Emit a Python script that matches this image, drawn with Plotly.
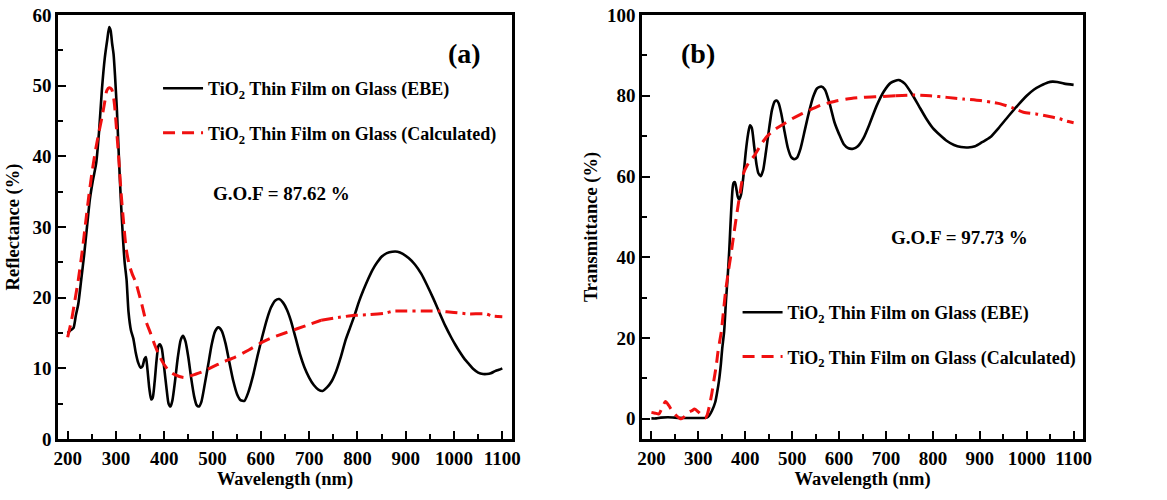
import plotly.graph_objects as go

# ---- Panel (a): reflectance ----
wl_refl_ebe = [200, 206, 212, 217, 222, 228, 234, 240, 246, 252, 259, 265, 271, 277, 282, 286,
               289, 292, 295, 298, 302, 306, 310, 314, 318, 322, 326, 331, 336, 341, 346, 351,
               355, 359, 362, 365, 369, 373, 376, 380, 384, 388, 391, 395, 400, 405, 409, 413,
               417, 422, 428, 434, 439, 444, 450, 456, 462, 467, 472, 477, 484, 491, 498, 505,
               512, 519, 527, 535, 543, 551, 558, 566, 574, 584, 594, 603, 612, 621, 630, 638,
               646, 654, 662, 672, 681, 690, 700, 710, 719, 728, 737, 746, 756, 766, 775, 785,
               794, 803, 812, 822, 831, 841, 850, 861, 872, 883, 894, 906, 919, 932, 944, 957,
               969, 982, 994, 1003, 1012, 1022, 1031, 1040, 1050, 1060, 1068, 1076, 1085, 1093, 1100]
refl_ebe = [15.0, 15.4, 15.7, 17.5, 19.1, 22.5, 26.0, 30.0, 33.9, 36.5, 39.0, 43.5, 49.5, 54.0, 56.5, 58.3,
            57.8, 56.0, 54.5, 51.5, 46.5, 40.0, 34.0, 29.0, 25.0, 22.5, 18.0, 15.4, 14.2, 12.2, 10.8, 10.1,
            10.3, 11.3, 11.6, 10.0, 7.2, 5.6, 5.8, 8.0, 11.1, 13.2, 13.4, 12.8, 10.0, 7.0, 5.0, 4.6,
            5.5, 8.0, 11.5, 14.0, 14.6, 13.8, 11.5, 8.5, 6.0, 4.8, 4.6, 5.3, 7.8, 10.5, 13.3, 15.2,
            15.8, 15.3, 13.5, 10.8, 8.2, 6.3, 5.5, 5.4, 6.6, 9.0, 12.0, 14.5, 16.8, 18.6, 19.6, 19.8,
            19.3, 18.3, 16.8, 14.3, 12.0, 10.2, 8.7, 7.6, 7.0, 6.8, 7.3, 8.1, 9.6, 11.7, 13.9, 15.8,
            17.5, 19.4, 21.0, 22.6, 23.9, 25.0, 25.8, 26.3, 26.5, 26.5, 26.2, 25.6, 24.7, 23.4, 21.8, 19.9,
            18.0, 16.0, 14.4, 13.3, 12.3, 11.3, 10.6, 9.9, 9.4, 9.2, 9.2, 9.3, 9.6, 9.8, 10.0]

wl_refl_calc = [200, 208, 215, 222, 230, 237, 244, 251, 258, 265, 271, 277, 281, 286, 291, 294,
                297, 301, 306, 311, 316, 321, 327, 334, 341, 347, 353, 362, 372, 381, 391, 400,
                409, 422, 441, 466, 482, 497, 522, 547, 575, 603, 622, 650, 675, 700, 725, 760,
                794, 825, 856, 875, 900, 935, 969, 1000, 1031, 1066, 1080, 1100]
refl_calc = [14.4, 16.8, 19.6, 22.5, 26.5, 30.5, 34.5, 38.0, 41.0, 43.5, 45.5, 47.8, 49.3, 49.7, 49.5, 48.8,
             47.3, 44.0, 39.5, 34.5, 30.5, 27.0, 24.8, 23.3, 22.2, 20.7, 19.2, 16.7, 14.9, 13.2, 11.6, 10.5,
             9.7, 9.1, 8.7, 9.2, 9.6, 10.1, 10.9, 11.6, 12.6, 13.7, 14.3, 15.0, 15.6, 16.2, 16.8, 17.2,
             17.5, 17.6, 17.8, 18.1, 18.1, 18.1, 18.1, 17.9, 17.7, 17.7, 17.4, 17.3]

# ---- Panel (b): transmittance ----
wl_trans_ebe = [200, 210, 220, 235, 250, 270, 290, 310, 318, 323, 329, 336, 340, 344, 348, 351,
                355, 359, 363, 366, 368, 370, 373, 375, 378, 381, 384, 387, 391, 396, 401, 406,
                410, 414, 419, 424, 428, 433, 438, 444, 451, 457, 463, 467, 471, 477, 484, 491,
                498, 504, 510, 518, 527, 536, 545, 553, 562, 570, 580, 590, 600, 610, 620, 630,
                640, 652, 665, 680, 695, 710, 727, 740, 755, 770, 785, 800, 815, 830, 845, 860,
                875, 890, 905, 922, 940, 960, 980, 1000, 1015, 1030, 1045, 1055, 1065, 1080, 1100]
trans_ebe = [0.1, 0.1, 0.3, 0.4, 0.3, 0.2, 0.2, 0.2, 0.3, 0.8, 2.0, 4.1, 6.5, 9.4, 13.5, 17.5,
             21.6, 29.4, 36.0, 41.9, 46.8, 51.5, 57.0, 58.4, 58.6, 57.0, 55.0, 54.3, 55.5, 60.0, 66.0, 70.5,
             72.7, 72.0, 67.5, 63.0, 60.8, 60.1, 61.5, 66.0, 72.0, 76.5, 78.6, 78.8, 78.2, 75.5, 71.0, 67.0,
             64.8, 64.3, 64.6, 67.0, 71.5, 76.0, 79.8, 81.8, 82.3, 81.5, 78.0, 73.5, 70.5, 68.0, 67.0, 66.9,
             67.5, 69.5, 73.0, 77.5, 81.0, 83.2, 83.9, 83.0, 80.5, 77.5, 74.5, 72.0, 70.3, 68.8, 67.8, 67.3,
             67.2, 67.5, 68.5, 69.7, 72.0, 74.8, 77.5, 80.0, 81.5, 82.5, 83.3, 83.5, 83.4, 83.0, 82.7]

wl_trans_calc = [200, 208, 216, 223, 230, 237, 244, 253, 263, 271, 279, 286, 292, 300, 308, 314,
                 319, 323, 328, 333, 338, 342, 346, 349, 353, 358, 364, 370, 376, 385, 397, 408,
                 419, 433, 447, 465, 482, 500, 518, 540, 561, 590, 617, 650, 688, 720, 759, 794,
                 830, 865, 901, 925, 944, 970, 993, 1020, 1043, 1070, 1085, 1100]
trans_calc = [1.6, 1.4, 1.2, 2.8, 4.3, 3.3, 2.0, 0.8, 0.0, 0.6, 1.6, 2.0, 2.4, 1.7, 0.8, 0.2,
              1.0, 2.9, 5.8, 9.4, 13.0, 16.7, 19.5, 21.6, 26.0, 31.5, 36.5, 41.0, 46.0, 53.0, 61.0, 63.5,
              65.1, 67.8, 70.0, 71.8, 73.0, 74.3, 75.4, 76.6, 77.7, 78.6, 79.2, 79.6, 79.8, 80.0, 80.2, 80.0,
              79.6, 79.2, 78.8, 78.4, 78.0, 77.0, 75.9, 75.5, 75.0, 74.3, 73.7, 73.3]

NAME_EBE = "TiO<sub>2</sub> Thin Film on Glass (EBE)"
NAME_CALC = "TiO<sub>2</sub> Thin Film on Glass (Calculated)"

FONT = "Liberation Serif"
RED = "#f01010"


def font(size):
    return dict(family=FONT, size=size, color="black", weight="bold")


def split(xs, ys, at):
    """Split a curve into two overlapping pieces at wavelength `at`."""
    i = next(k for k, v in enumerate(xs) if v >= at)
    return (xs[:i + 1], ys[:i + 1]), (xs[i:], ys[i:])


fig = go.Figure()

# (a) measured and calculated reflectance
fig.add_trace(go.Scatter(x=wl_refl_ebe, y=refl_ebe, xaxis="x", yaxis="y", mode="lines",
                         name=NAME_EBE, legend="legend", legendgroup="a1",
                         line=dict(color="black", width=2.6, shape="spline", smoothing=0.6)))
(ca1, ca2) = split(wl_refl_calc, refl_calc, 725)
fig.add_trace(go.Scatter(x=ca1[0], y=ca1[1], xaxis="x", yaxis="y", mode="lines",
                         name=NAME_CALC, legend="legend", legendgroup="a2",
                         line=dict(color=RED, width=3, dash="12px,7px", shape="spline", smoothing=0.6)))
fig.add_trace(go.Scatter(x=ca2[0], y=ca2[1], xaxis="x", yaxis="y", mode="lines",
                         showlegend=False, legendgroup="a2",
                         line=dict(color=RED, width=3, dash="12px,5px,3px,5px", shape="spline", smoothing=0.6)))

# (b) measured and calculated transmittance
fig.add_trace(go.Scatter(x=wl_trans_ebe, y=trans_ebe, xaxis="x2", yaxis="y2", mode="lines",
                         name=NAME_EBE, legend="legend2", legendgroup="b1",
                         line=dict(color="black", width=2.6, shape="spline", smoothing=0.6)))
(cb1, cb2) = split(wl_trans_calc, trans_calc, 720)
fig.add_trace(go.Scatter(x=cb1[0], y=cb1[1], xaxis="x2", yaxis="y2", mode="lines",
                         name=NAME_CALC, legend="legend2", legendgroup="b2",
                         line=dict(color=RED, width=3, dash="12px,7px", shape="spline", smoothing=0.6)))
fig.add_trace(go.Scatter(x=cb2[0], y=cb2[1], xaxis="x2", yaxis="y2", mode="lines",
                         showlegend=False, legendgroup="b2",
                         line=dict(color=RED, width=3, dash="12px,5px,3px,5px", shape="spline", smoothing=0.6)))


def xaxis(domain, anchor):
    return dict(domain=domain, anchor=anchor, range=[180, 1120], automargin=False,
                tickmode="linear", tick0=200, dtick=100,
                ticks="inside", ticklen=8, tickwidth=2, tickcolor="black",
                minor=dict(ticks="inside", ticklen=5, tickwidth=2, tickcolor="black",
                           tick0=150, dtick=50, showgrid=False),
                showline=True, linewidth=2.5, linecolor="black", mirror=True,
                showgrid=False, zeroline=False, tickfont=font(19),
                title=dict(text="Wavelength (nm)", font=font(18.5), standoff=5))


def yaxis(anchor, rng, dtick, minor, title, standoff):
    return dict(anchor=anchor, domain=[0, 1], range=rng, automargin=False,
                tickmode="linear", tick0=0, dtick=dtick,
                ticks="inside", ticklen=8, tickwidth=2, tickcolor="black",
                minor=dict(ticks="inside", ticklen=5, tickwidth=2, tickcolor="black",
                           tick0=0, dtick=minor, showgrid=False),
                showline=True, linewidth=2.5, linecolor="black", mirror=True,
                showgrid=False, zeroline=False, tickfont=font(19),
                title=dict(text=title, font=font(18.5), standoff=standoff))


legend_common = dict(font=font(18), bgcolor="rgba(0,0,0,0)", borderwidth=0,
                     itemwidth=40, tracegroupgap=18, xref="paper", yref="paper",
                     xanchor="left", yanchor="top", itemclick=False, itemdoubleclick=False)

fig.update_layout(
    width=1167, height=500,
    margin=dict(l=58, r=84, t=15, b=61, autoexpand=False),
    paper_bgcolor="white", plot_bgcolor="white",
    showlegend=True,
    xaxis=xaxis([0, 0.4429], "y"),
    yaxis=yaxis("x", [0, 60], 10, 5, "Reflectance (%)", 8),
    xaxis2=xaxis([0.5698, 1], "y2"),
    yaxis2=yaxis("x2", [-5, 100], 20, 10, "Transmittance (%)", 5),
    legend=dict(x=0.0976, y=0.870, **legend_common),
    legend2=dict(x=0.663, y=0.342, **legend_common),
    annotations=[
        dict(text="(a)", xref="x domain", yref="y domain", x=0.896, y=0.910,
             xanchor="center", yanchor="middle", showarrow=False, font=font(28)),
        dict(text="G.O.F = 87.62 %", xref="x domain", yref="y domain", x=0.493, y=0.580,
             xanchor="center", yanchor="middle", showarrow=False, font=font(19)),
        dict(text="(b)", xref="x2 domain", yref="y2 domain", x=0.127, y=0.910,
             xanchor="center", yanchor="middle", showarrow=False, font=font(28)),
        dict(text="G.O.F = 97.73 %", xref="x2 domain", yref="y2 domain", x=0.721, y=0.476,
             xanchor="center", yanchor="middle", showarrow=False, font=font(19)),
    ],
)

fig.write_html("out.html")
